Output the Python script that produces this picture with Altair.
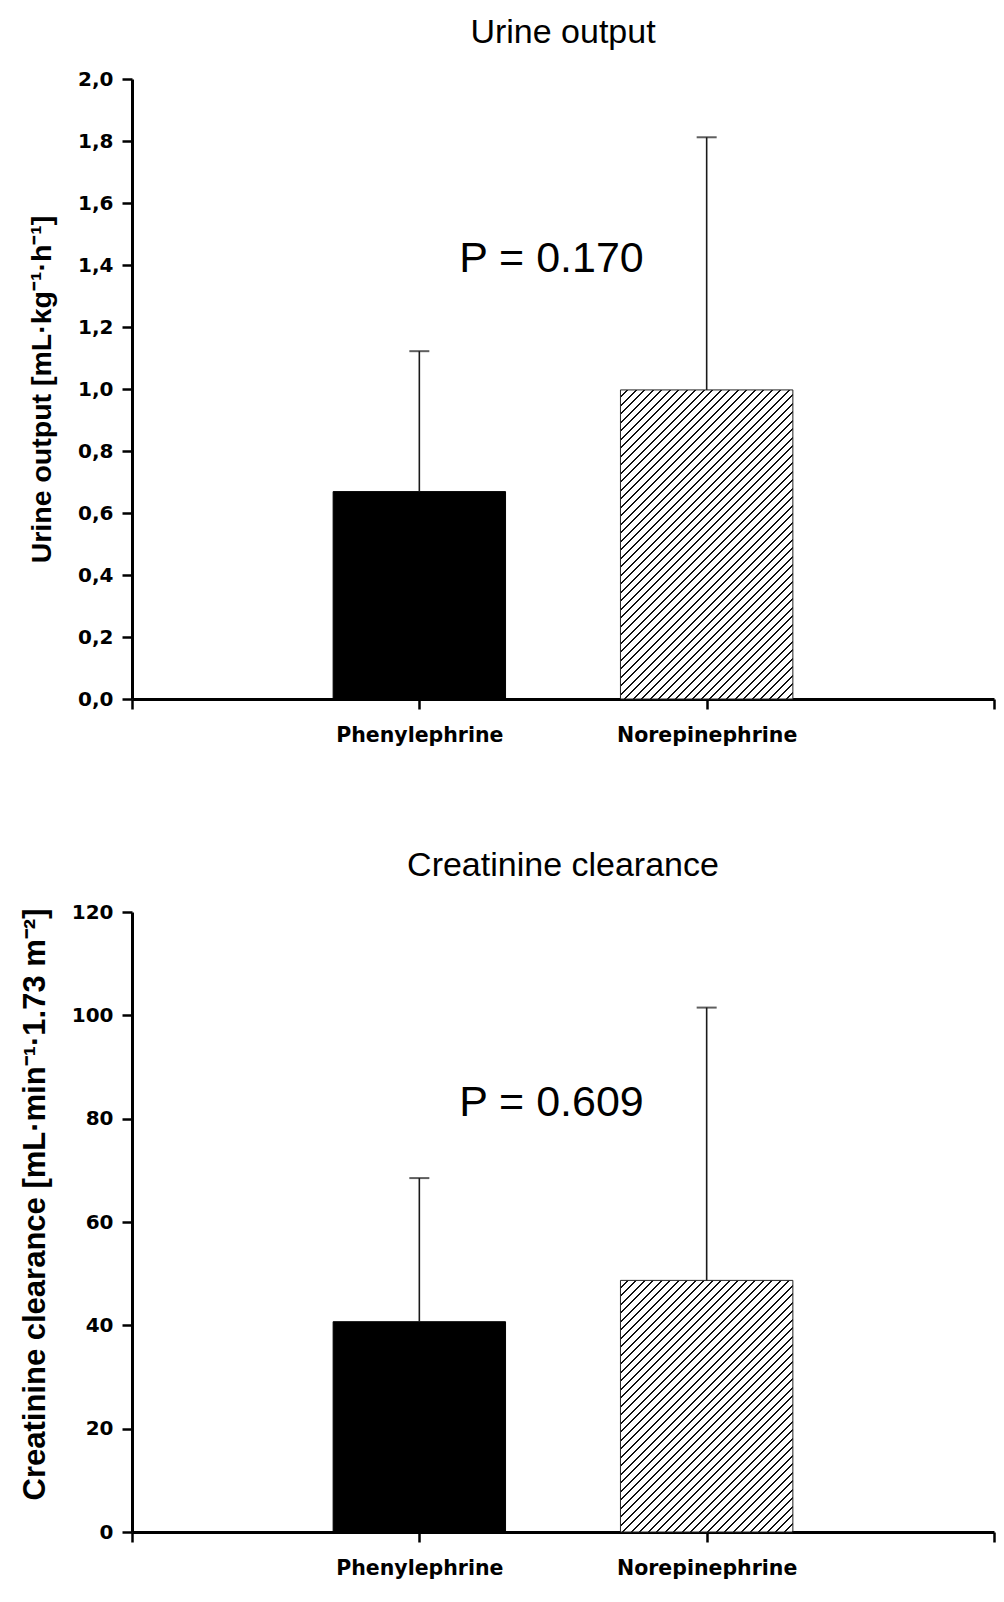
import altair as alt
import pandas as pd

# ---------------- data ----------------
categories = ["Phenylephrine", "Norepinephrine"]
urine_mean = [0.669, 0.997]
urine_upper = [1.122, 1.812]
creat_mean = [40.7, 48.7]
creat_upper = [68.5, 101.5]
p_texts = ["P = 0.170", "P = 0.609"]
p_x = [1.46, 1.46]
p_y = [1.42, 83.0]
urine_ticks = [0.0, 0.2, 0.4, 0.6, 0.8, 1.0, 1.2, 1.4, 1.6, 1.8, 2.0]
creat_ticks = [0, 20, 40, 60, 80, 100, 120]
x_ticks = [0, 1, 2, 3]

# ---------------- layout / style ----------------
W = 862
H = 620
HALF = 0.3
BAR_PX = W / 3 * 2 * HALF


def hatch(value, ymax, period=8.5, frac=0.24, color="#111111"):
    h = value / ymax * H
    r = h / BAR_PX
    span = BAR_PX * (1 + r * r)
    n = max(1, int(span / period) + 1)
    s = n * period / span
    stops = []
    for k in range(n):
        a = k / n
        b = (k + 1 - frac) / n
        c = (k + 1) / n
        stops += [
            alt.GradientStop(offset=round(a, 6), color="white"),
            alt.GradientStop(offset=round(b, 6), color="white"),
            alt.GradientStop(offset=round(b, 6), color=color),
            alt.GradientStop(offset=round(c, 6), color=color),
        ]
    return alt.LinearGradient(gradient="linear", x1=0, y1=0, x2=s, y2=s * r, stops=stops)


def panel(title, means, uppers, ymax, ticks, label_expr, ytitle, ytitle_size,
          ytitle_x, ytitle_y, ptext, px, py):
    df = pd.DataFrame({
        "cat": categories,
        "pos": [i + 1 for i in range(len(categories))],
        "mean": means,
        "upper": uppers,
    })
    xscale = alt.Scale(domain=[0, 3], nice=False, zero=False)
    yscale = alt.Scale(domain=[0, ymax], nice=False)
    xaxis = alt.Axis(
        values=x_ticks, title=None, grid=False, labelOverlap=False, labelFlush=False,
        labelLimit=0,
        labelExpr="datum.value == 1 ? '%s' : datum.value == 2 ? '%s' : ''" % (categories[0], categories[1]),
    )
    yargs = dict(values=ticks, title=ytitle, grid=False, titleFontSize=ytitle_size,
                 titleX=ytitle_x, titleY=ytitle_y, titleBaseline="alphabetic",
                 titleAngle=270, titleAlign="center", titleLimit=0, labelLimit=0)
    if label_expr:
        yargs["labelExpr"] = label_expr
    yaxis = alt.Axis(**yargs)

    base = alt.Chart(df).transform_calculate(
        x1="datum.pos - %f" % HALF, x2="datum.pos + %f" % HALF
    )
    solid = base.transform_filter(alt.datum.cat == categories[0]).mark_bar(
        fill="black", stroke="black", strokeWidth=1
    ).encode(
        x=alt.X("x1:Q", scale=xscale, axis=xaxis),
        x2="x2:Q",
        y=alt.Y("mean:Q", scale=yscale, axis=yaxis),
        y2=alt.datum(0),
    )
    hatched = base.transform_filter(alt.datum.cat == categories[1]).mark_bar(
        fill=hatch(means[1], ymax), stroke="#222222", strokeWidth=1
    ).encode(
        x=alt.X("x1:Q", scale=xscale),
        x2="x2:Q",
        y=alt.Y("mean:Q", scale=yscale),
        y2=alt.datum(0),
    )
    err = alt.Chart(df).mark_rule(color="#1a1a1a", strokeWidth=1.6).encode(
        x=alt.X("pos:Q", scale=xscale),
        y=alt.Y("mean:Q", scale=yscale),
        y2="upper:Q",
    )
    cap = alt.Chart(df).mark_tick(
        orient="horizontal", size=20, thickness=2, color="#1a1a1a"
    ).encode(
        x=alt.X("pos:Q", scale=xscale),
        y=alt.Y("upper:Q", scale=yscale),
    )
    ann = alt.Chart(pd.DataFrame({"t": [ptext], "x": [px], "y": [py]})).mark_text(
        font="Liberation Sans", fontSize=43, align="center", baseline="middle", color="black"
    ).encode(
        x=alt.X("x:Q", scale=xscale),
        y=alt.Y("y:Q", scale=yscale),
        text="t:N",
    )
    return alt.layer(solid, hatched, err, cap, ann).properties(
        width=W, height=H,
        title=alt.TitleParams(title, anchor="middle", fontSize=34, font="Liberation Sans",
                              fontWeight="normal", color="black", offset=19),
    )


top = panel("Urine output", urine_mean, urine_upper, 2.0, urine_ticks,
            "replace(format(datum.value, '.1f'), '.', ',')",
            "Urine output [mL·kg⁻¹·h⁻¹]", 28.5, -82, H / 2,
            p_texts[0], p_x[0], p_y[0])
bottom = panel("Creatinine clearance", creat_mean, creat_upper, 120, creat_ticks, None,
               "Creatinine clearance [mL·min⁻¹·1.73 m⁻²]", 31, -88, H / 2 - 18,
               p_texts[1], p_x[1], p_y[1])

chart = alt.vconcat(top, bottom, spacing=103).properties(
    padding={"left": 10, "top": 8, "right": 0, "bottom": 0}
).configure_view(stroke=None).configure_axis(
    domainColor="black", domainWidth=3, tickColor="black", tickWidth=2.5, tickSize=10,
    labelColor="black", labelFont="DejaVu Sans", labelFontWeight="bold", labelFontSize=20,
    labelPadding=9, titleColor="black", titleFont="Liberation Sans", titleFontWeight="bold",
).configure_axisX(labelFontSize=20.5, labelPadding=16)

chart.save("out.html", embed_options={"renderer": "svg", "actions": False})
